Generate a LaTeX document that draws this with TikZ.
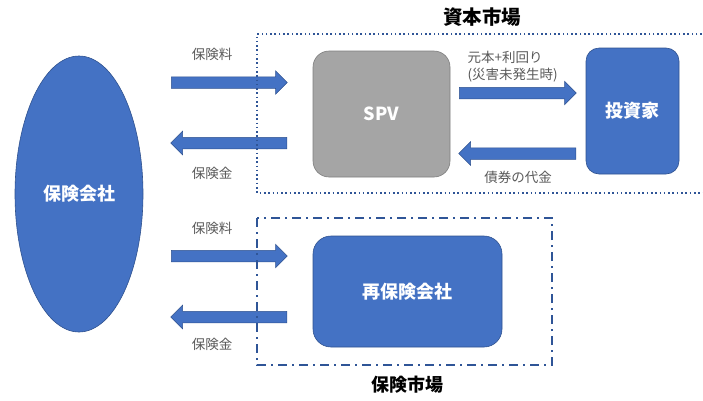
\documentclass[tikz,border=0pt]{standalone}
\usepackage{fontspec}
\setmainfont{Noto Sans CJK JP}
\usetikzlibrary{shapes.geometric,shapes.arrows}
\definecolor{office}{HTML}{4472C4}
\definecolor{officeedge}{HTML}{2F528F}
\definecolor{spvgray}{HTML}{A5A5A5}
\definecolor{spvedge}{HTML}{7F7F7F}
\definecolor{framecol}{HTML}{2F5597}
\definecolor{lblgray}{HTML}{595959}
\tikzset{company/.style={ellipse,fill=office,draw=officeedge,line width=.6pt,text=white,
  font=\fontsize{18}{20}\selectfont\bfseries},
 box/.style={rectangle,rounded corners=14pt,fill=office,draw=officeedge,line width=.6pt,
  text=white,font=\fontsize{18}{20}\selectfont\bfseries},
 flow/.style={single arrow,fill=office,draw=officeedge,line width=.5pt,inner xsep=0pt,
  inner ysep=5.5pt,single arrow head extend=6pt,minimum height=116pt,anchor=tail},
 back/.style={flow,shape border rotate=180},
 lbl/.style={text=lblgray,font=\fontsize{13.5}{17}\selectfont},
 market/.style={font=\fontsize{19.5}{21}\selectfont\bfseries}}
\begin{document}
\begin{tikzpicture}[x=1pt,y=-1pt]
 \useasboundingbox (0,0) rectangle (703,400);
 % parties
 \node[company,minimum width=128pt,minimum height=276pt] (ins) at (79,194) {保険会社};
 \node[box,fill=spvgray,draw=spvedge,rounded corners=16pt,minimum width=137pt,minimum height=126pt] (spv) at (381.5,114) {SPV};
 \node[box,rounded corners=13pt,minimum width=93pt,minimum height=126pt] (inv) at (632.5,111) {投資家};
 \node[box,rounded corners=18pt,minimum width=189pt,minimum height=111pt] (reins) at (407.5,291.5) {再保険会社};
 % flows
 \node[flow] (prem1) at (171,82.5) {};
 \node[back] (claim1) at (287,143) {};
 \node[flow,minimum height=117pt] (redeem) at (459,93) {};
 \node[back,minimum height=117pt] (price) at (576,153.5) {};
 \node[flow] (prem2) at (171,256) {};
 \node[back] (claim2) at (287,317) {};
 % labels
 \node[lbl] (prem1l) at (212,54) {保険料};
 \node[lbl] (claim1l) at (212,173) {保険金};
 \node[lbl,align=left,anchor=west] (redeeml) at (464,66.5) {元本+利回り\\(災害未発生時)};
 \node[lbl] (pricel) at (518,177) {債券の代金};
 \node[lbl] (prem2l) at (212,228) {保険料};
 \node[lbl] (claim2l) at (212,344) {保険金};
 % markets
 \draw[framecol,line width=1.6pt,dash pattern=on 1.6pt off 2.7pt] (706,34) -- (257,34) -- (257,193) -- (706,193);
 \draw[framecol,line width=1.4pt,dash pattern=on 9pt off 5pt on 2pt off 5pt] (257,218) rectangle (552,365);
 \node[market] (capm) at (482,17) {資本市場};
 \node[market,font=\fontsize{18}{20}\selectfont\bfseries] (insm) at (407,385) {保険市場};
\end{tikzpicture}
\end{document}
